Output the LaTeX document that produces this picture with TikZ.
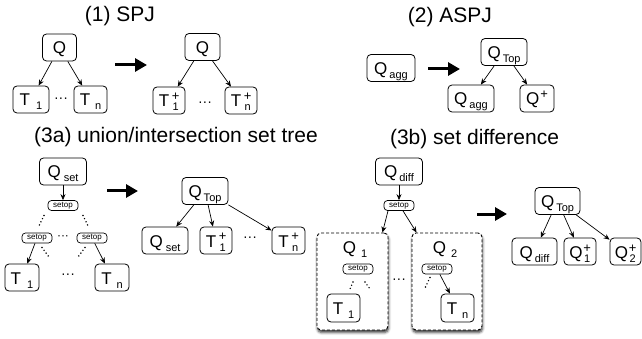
\documentclass[tikz,border=0pt]{standalone}
\usepackage{fontspec}
\setmainfont{Liberation Sans}
\usetikzlibrary{arrows.meta,shadows.blur}

% small lowered index after a letter
\newcommand\lowidx[2][2pt]{\kern#1\raisebox{-4pt}{\fontsize{11}{12}\selectfont #2}}
% "+" stacked over a lowered index
\newcommand\plusidx[2][3pt]{\kern#1\rlap{\makebox[7pt][c]{\raisebox{6pt}{\fontsize{13}{13}\selectfont +}}}\makebox[7pt][c]{\raisebox{-4pt}{\fontsize{11}{12}\selectfont #2}}}
% "+" only, raised
\newcommand\plusonly[1][1pt]{\kern#1\raisebox{6pt}{\fontsize{13}{13}\selectfont +}}

\begin{document}
\begin{tikzpicture}[x=1pt,y=-1pt,
  box/.style={draw, rounded corners=4pt, line width=0.8pt, fill=white,
    font=\fontsize{17}{20}\selectfont, minimum height=27pt, inner sep=0pt,
    text height=16pt, text depth=3pt},
  opbox/.style={draw, rounded corners=3.5pt, line width=0.7pt,
    font=\fontsize{8}{9}\selectfont, minimum width=30pt, minimum height=10pt,
    inner sep=0pt},
  group/.style={draw, dashed, dash pattern=on 3pt off 2pt, rounded corners=4pt,
    line width=0.9pt, fill=white, minimum width=71pt, minimum height=97pt,
    blur shadow={shadow xshift=0.5pt, shadow yshift=-2.5pt, shadow blur radius=2.5pt,
      shadow opacity=80}},
  edge/.style={-{Stealth[length=6pt,width=5pt]}, line width=0.7pt},
  bigarrow/.style={-{Triangle[length=12pt,width=13pt]}, line width=3pt},
  title/.style={font=\fontsize{21}{25}\selectfont, inner sep=0pt},
  grouplabel/.style={font=\fontsize{17}{20}\selectfont, inner sep=0pt},
  ellip/.style={font=\fontsize{14}{16}\selectfont, inner sep=0pt},
  dotline/.style={line width=1.6pt, line cap=round, dash pattern=on 0pt off 3.5pt},
]
\useasboundingbox (0,0) rectangle (642,339);

% ---------------- (1) SPJ ----------------
\node[title] (t1) at (120,16) {(1) SPJ};
\node[box, minimum width=34pt] (qa) at (59.5,47.5) {Q};
\node[box, minimum width=36pt] (t1a) at (31,99.5) {T\lowidx[6pt]{1}};
\node[box, minimum width=33pt] (tna) at (90.5,99.5) {T\lowidx[5pt]{n}};
\node[ellip] (ea) at (61,100) {···};
\draw[edge] (qa) -- (t1a);
\draw[edge] (qa) -- (tna);

\coordinate (ba1) at (115,65);
\coordinate (ba2) at (147,65);
\draw[bigarrow] (ba1) -- (ba2);

\node[box, minimum width=35pt] (qb) at (202.5,47) {Q};
\node[box, minimum width=32pt] (t1b) at (169,100.5) {T\plusidx{1}};
\node[box, minimum width=32pt] (tnb) at (241,100.5) {T\plusidx{n}};
\node[ellip] (eb) at (205,104) {···};
\draw[edge] (qb) -- (t1b);
\draw[edge] (qb) -- (tnb);

% ---------------- (2) ASPJ ----------------
\node[title] (t2) at (450,17) {(2) ASPJ};
\node[box, minimum width=48pt] (qg1) at (391,68) {Q\lowidx{agg}};
\coordinate (bb1) at (428,69);
\coordinate (bb2) at (460,69);
\draw[bigarrow] (bb1) -- (bb2);
\node[box, minimum width=46pt] (qt2) at (504,52) {Q\lowidx{Top}};
\node[box, minimum width=46pt] (qg2) at (471,98.5) {Q\lowidx{agg}};
\node[box, minimum width=34pt] (qp2) at (537,98.5) {Q\plusonly};
\draw[edge] (qt2) -- (qg2);
\draw[edge] (qt2) -- (qp2);

% ---------------- (3a) union/intersection ----------------
\node[title] (t3a) at (176,137.5) {(3a) union/intersection set tree};
\node[box, minimum width=47pt] (qs1) at (63,171.5) {Q\lowidx[3pt]{set}};
\node[opbox] (so0) at (63,205.5) {setop};
\node[opbox] (so1) at (37,238) {setop};
\node[opbox] (so2) at (92,238) {setop};
\node[font=\fontsize{12}{14}\selectfont, inner sep=0pt] (es) at (63,238) {···};
\node[box, minimum width=34pt] (t1c) at (22,277.5) {T\lowidx[6pt]{1}};
\node[box, minimum width=34pt] (tnc) at (112,277.5) {T\lowidx[5pt]{n}};
\node[ellip] (ec) at (68,276) {···};
\draw[edge] (qs1) -- (so0);
\draw[edge] (so1) -- (t1c);
\draw[edge] (so2) -- (tnc);
\draw[dotline] (44,215.5) -- (38.5,227);
\draw[dotline] (83,215.5) -- (88.5,227);
\draw[dotline] (42,247.5) -- (49,257);
\draw[dotline] (85,247.5) -- (78,257);

\coordinate (bc1) at (107,191);
\coordinate (bc2) at (138,191);
\draw[bigarrow] (bc1) -- (bc2);
\node[box, minimum width=46pt] (qt3) at (205,191) {Q\lowidx{Top}};
\node[box, minimum width=46pt] (qs2) at (165,240.5) {Q\lowidx[3pt]{set}};
\node[box, minimum width=32pt] (t1d) at (216,240.5) {T\plusidx{1}};
\node[box, minimum width=33pt] (tnd) at (288.5,240.5) {T\plusidx{n}};
\node[ellip] (ed) at (250,239) {···};
\draw[edge] (qt3) -- (qs2);
\draw[edge] (qt3) -- (t1d);
\draw[edge] (qt3) -- (tnd);

% ---------------- (3b) set difference ----------------
\node[title] (t3b) at (474.5,139) {(3b) set difference};
\node[box, minimum width=47pt] (qd1) at (399,171.5) {Q\lowidx{diff}};
\node[opbox] (so3) at (399,205.5) {setop};

\node[group] (g1) at (352.5,281.5) {};
\node[group, minimum width=70pt] (g2) at (447,281.5) {};
\draw[edge] (qd1) -- (so3);
\draw[edge] ([xshift=-11pt]so3.south) -- ([xshift=-6pt]g1.north east);
\draw[edge] ([xshift=4pt]so3.south) -- ([xshift=5pt]g2.north west);
\node[ellip] (eg) at (399,281) {···};

\node[grouplabel] (lq1) at (355,250) {Q\lowidx[5pt]{1}};
\node[opbox] (so4) at (358,269) {setop};
\node[box, minimum width=33pt, minimum height=28pt] (t1e) at (343.5,308) {T\lowidx[5pt]{1}};
\draw[dotline] (353,282) -- (350,289);
\draw[dotline] (365,282) -- (370,289);

\node[grouplabel] (lq2) at (445,250) {Q\lowidx[5pt]{2}};
\node[opbox] (so5) at (437,269) {setop};
\node[box, minimum width=33pt, minimum height=28pt] (tne) at (457.5,308) {T\lowidx[5pt]{n}};
\draw[dotline] (430,277.5) -- (425,288);
\draw[edge] (so5) -- (tne);

\coordinate (bd1) at (477,214);
\coordinate (bd2) at (507,214);
\draw[bigarrow] (bd1) -- (bd2);
\node[box, minimum width=45pt] (qt4) at (557.5,201) {Q\lowidx{Top}};
\node[box, minimum width=45pt] (qd2) at (534.5,251.5) {Q\lowidx{diff}};
\node[box, minimum width=32pt] (q1p) at (580,251.5) {Q\plusidx[1pt]{1}};
\node[box, minimum width=31pt] (q2p) at (625.5,251.5) {Q\plusidx[1pt]{2}};
\draw[edge] (qt4) -- (qd2);
\draw[edge] (qt4) -- (q1p);
\draw[edge] (qt4) -- (q2p);
\end{tikzpicture}
\end{document}
